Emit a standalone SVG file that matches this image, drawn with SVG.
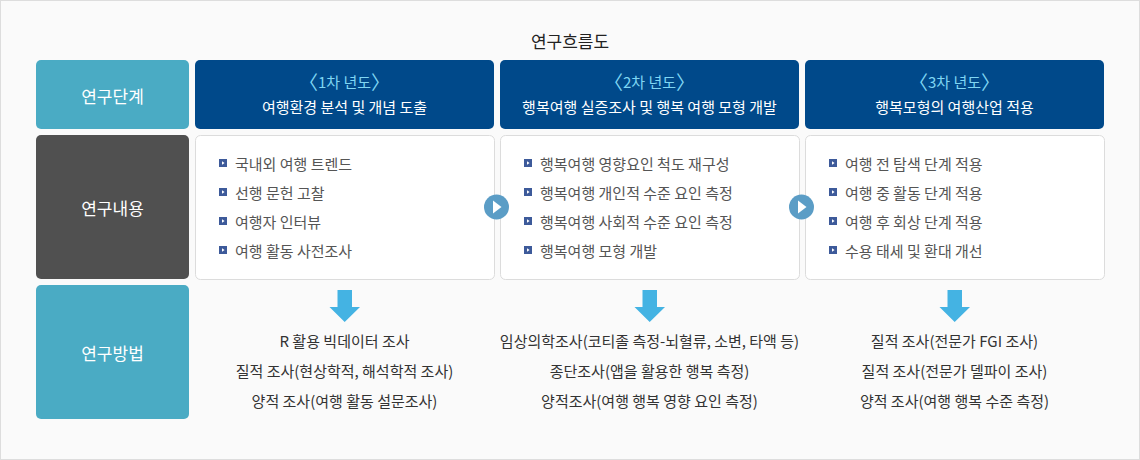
<svg xmlns="http://www.w3.org/2000/svg" width="1140" height="460" viewBox="0 0 1140 460">
<style>
text{font-family:"Noto Sans CJK KR","Noto Sans",sans-serif;}
.lbl{fill:#fff;font-size:17px;text-anchor:middle;dominant-baseline:central;}
.yr{fill:#7fd6f3;font-size:15px;text-anchor:middle;dominant-baseline:central;}
.yr .br{font-size:19px;}
.sub{fill:#fff;font-size:15px;text-anchor:middle;dominant-baseline:central;}
.item{fill:#555;font-size:15px;dominant-baseline:central;}
.meth{fill:#333;font-size:15px;text-anchor:middle;dominant-baseline:central;}
.teal{fill:#4aabc4;}
.dark{fill:#505050;}
.navy{fill:#00498a;}
.card{fill:#fff;stroke:#dcdcdc;stroke-width:1;}
.circ{fill:#5b9dc6;}
.down{fill:#44b3e3;}
</style>
<defs>
<g id="bul"><rect x="0" y="0" width="8" height="8" fill="#3d5a9a"/><path d="M3,2.2 L5.6,4 L3,5.8 Z" fill="#fff"/></g>
</defs>
<rect x="0.5" y="0.5" width="1139" height="459" fill="#fafafa" stroke="#dddddd"/>
<text x="570" y="40" text-anchor="middle" dominant-baseline="central" font-size="17" fill="#222">연구흐름도</text>

<g id="label-stage"><rect class="teal" x="36" y="60" width="153" height="69" rx="5"/><text class="lbl" x="112.5" y="95">연구단계</text></g>
<g id="label-content"><rect class="dark" x="36" y="135" width="153" height="144" rx="5"/><text class="lbl" x="112.5" y="207">연구내용</text></g>
<g id="label-method"><rect class="teal" x="36" y="285" width="153" height="134" rx="5"/><text class="lbl" x="112.5" y="352">연구방법</text></g>

<g id="year1"><rect class="navy" x="195" y="60" width="299" height="69" rx="5"/><text class="yr" x="344.5" y="81"><tspan class="br">〈</tspan>1차 년도<tspan class="br">〉</tspan></text><text class="sub" x="344.5" y="106">여행환경 분석 및 개념 도출</text></g>
<g id="year2"><rect class="navy" x="500" y="60" width="299" height="69" rx="5"/><text class="yr" x="649.5" y="81"><tspan class="br">〈</tspan>2차 년도<tspan class="br">〉</tspan></text><text class="sub" x="649.5" y="106">행복여행 실증조사 및 행복 여행 모형 개발</text></g>
<g id="year3"><rect class="navy" x="805" y="60" width="299" height="69" rx="5"/><text class="yr" x="954.5" y="81"><tspan class="br">〈</tspan>3차 년도<tspan class="br">〉</tspan></text><text class="sub" x="954.5" y="106">행복모형의 여행산업 적용</text></g>

<g id="content1"><rect class="card" x="195.5" y="135.5" width="299" height="144" rx="5"/>
<use href="#bul" x="219" y="159"/><text class="item" x="235" y="163">국내외 여행 트렌드</text>
<use href="#bul" x="219" y="188"/><text class="item" x="235" y="192">선행 문헌 고찰</text>
<use href="#bul" x="219" y="217"/><text class="item" x="235" y="221">여행자 인터뷰</text>
<use href="#bul" x="219" y="246"/><text class="item" x="235" y="250">여행 활동 사전조사</text></g>
<g id="content2"><rect class="card" x="500.5" y="135.5" width="299" height="144" rx="5"/>
<use href="#bul" x="524" y="159"/><text class="item" x="540" y="163">행복여행 영향요인 척도 재구성</text>
<use href="#bul" x="524" y="188"/><text class="item" x="540" y="192">행복여행 개인적 수준 요인 측정</text>
<use href="#bul" x="524" y="217"/><text class="item" x="540" y="221">행복여행 사회적 수준 요인 측정</text>
<use href="#bul" x="524" y="246"/><text class="item" x="540" y="250">행복여행 모형 개발</text></g>
<g id="content3"><rect class="card" x="805.5" y="135.5" width="299" height="144" rx="5"/>
<use href="#bul" x="829" y="159"/><text class="item" x="845" y="163">여행 전 탐색 단계 적용</text>
<use href="#bul" x="829" y="188"/><text class="item" x="845" y="192">여행 중 활동 단계 적용</text>
<use href="#bul" x="829" y="217"/><text class="item" x="845" y="221">여행 후 회상 단계 적용</text>
<use href="#bul" x="829" y="246"/><text class="item" x="845" y="250">수용 태세 및 환대 개선</text></g>

<g id="method1"><text class="meth" x="344.5" y="340">R 활용 빅데이터 조사</text><text class="meth" x="344.5" y="370">질적 조사(현상학적, 해석학적 조사)</text><text class="meth" x="344.5" y="400">양적 조사(여행 활동 설문조사)</text></g>
<g id="method2"><text class="meth" x="649.5" y="340">임상의학조사(코티졸 측정-뇌혈류, 소변, 타액 등)</text><text class="meth" x="649.5" y="370">종단조사(앱을 활용한 행복 측정)</text><text class="meth" x="649.5" y="400">양적조사(여행 행복 영향 요인 측정)</text></g>
<g id="method3"><text class="meth" x="954.5" y="340">질적 조사(전문가 FGI 조사)</text><text class="meth" x="954.5" y="370">질적 조사(전문가 델파이 조사)</text><text class="meth" x="954.5" y="400">양적 조사(여행 행복 수준 측정)</text></g>

<g id="connectors">
<g><circle class="circ" cx="496.5" cy="207" r="12.5"/><path d="M493,200.5 L501.5,207 L493,213.5 Z" fill="#fff"/></g>
<g><circle class="circ" cx="801.5" cy="207" r="12.5"/><path d="M798,200.5 L806.5,207 L798,213.5 Z" fill="#fff"/></g>
<path class="down" d="M337.5,290 H352 V307 H360 L344.7,322 L329.5,307 H337.5 Z"/>
<path class="down" d="M642.5,290 H657 V307 H665 L649.7,322 L634.5,307 H642.5 Z"/>
<path class="down" d="M947.5,290 H962 V307 H970 L954.7,322 L939.5,307 H947.5 Z"/>
</g>
</svg>
